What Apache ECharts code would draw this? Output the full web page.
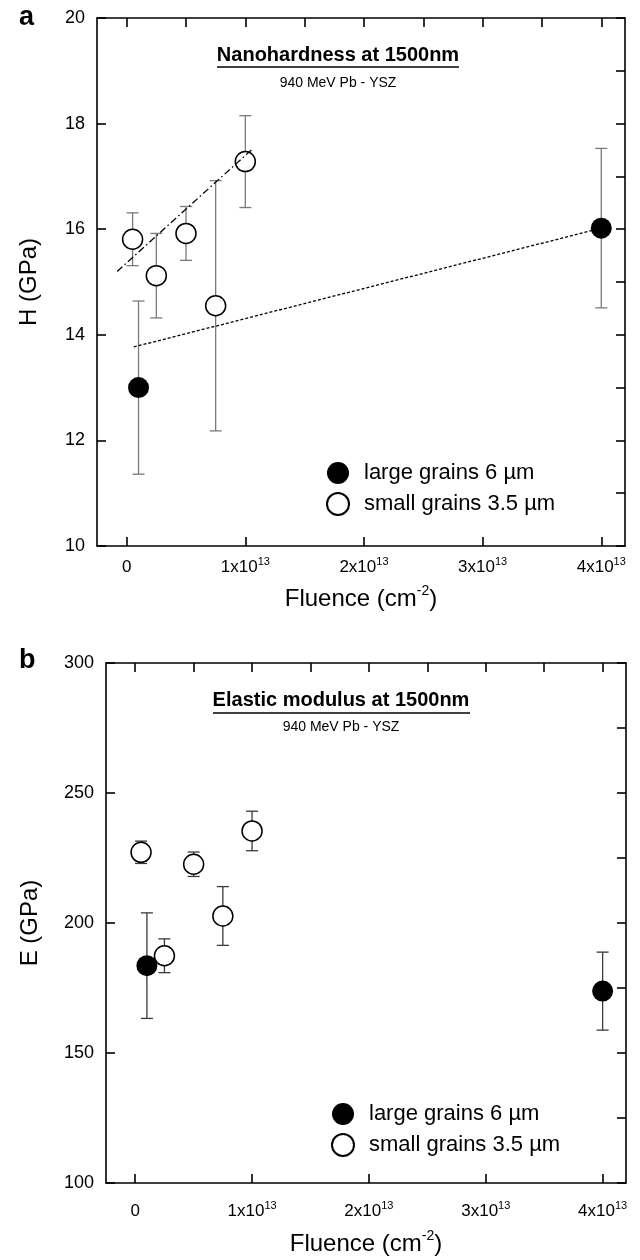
<!DOCTYPE html>
<html><head><meta charset="utf-8">
<script src="https://cdn.jsdelivr.net/npm/echarts@6/dist/echarts.min.js"></script>
<style>html,body{margin:0;padding:0;background:#fff}#c{width:640px;height:1260px}</style>
</head><body><div id="c"></div>
<script>
// ---------- data ----------
const xTicks = [0, 1e13, 2e13, 3e13, 4e13];
const xMinorTicks = [0, 0.5e13, 1e13, 1.5e13, 2e13, 2.5e13, 3e13, 3.5e13, 4e13];
// [fluence (cm^-2), value (GPa), error (GPa)]
const largeH = [[1e12, 13.0, 1.64], [4e13, 16.02, 1.51]];
const smallH = [[5e11, 15.81, 0.50], [2.5e12, 15.12, 0.80], [5e12, 15.92, 0.51], [7.5e12, 14.55, 2.37], [1e13, 17.28, 0.87]];
const fitSmallH = [[-8e11, 15.2], [1.06e13, 17.52]];
const fitLargeH = [[6e11, 13.77], [4e13, 16.02]];
const largeE = [[1e12, 183.6, 20.3], [4e13, 173.8, 15.0]];
const smallE = [[5e11, 227.2, 4.3], [2.5e12, 187.4, 6.5], [5e12, 222.6, 4.7], [7.5e12, 202.7, 11.3], [1e13, 235.4, 7.6]];
const nameLarge = 'large grains 6 µm';
const nameSmall = 'small grains 3.5 µm';

// ---------- helpers ----------
const FONT = '"Liberation Sans", Arial, sans-serif';
const toErr = arr => arr.map(d => [d[0], d[1] - d[2], d[1] + d[2]]);
const toPts = arr => arr.map(d => [d[0], d[1]]);
function errRender(color) {
  return function (params, api) {
    const x = api.value(0), lo = api.value(1), hi = api.value(2);
    const a = api.coord([x, lo]), b = api.coord([x, hi]);
    const w = 6;
    const style = { stroke: color, lineWidth: 1.3 };
    return { type: 'group', children: [
      { type: 'line', shape: { x1: a[0], y1: a[1], x2: b[0], y2: b[1] }, style },
      { type: 'line', shape: { x1: a[0] - w, y1: a[1], x2: a[0] + w, y2: a[1] }, style },
      { type: 'line', shape: { x1: b[0] - w, y1: b[1], x2: b[0] + w, y2: b[1] }, style }
    ]};
  };
}
const axisLineStyle = { color: '#000', width: 1.6 };
const xLabelFmt = v => v === 0 ? '{m|0}' : '{m|' + Math.round(v / 1e13) + 'x10}{s|13}';
const xRich = { m: { fontSize: 17, lineHeight: 22, color: '#000', fontFamily: FONT }, s: { fontSize: 11, verticalAlign: 'top', color: '#000', fontFamily: FONT } };
const nameRich = { s: { fontSize: 14, verticalAlign: 'top', color: '#000', fontFamily: FONT } };

function xAxes(grid, nameGap, labelMargin) {
  return [
    { gridIndex: grid, type: 'value', min: -2.5e12, max: 4.2e13, position: 'bottom',
      axisLine: { show: true, onZero: false, lineStyle: axisLineStyle },
      axisTick: { show: true, inside: true, length: 9, customValues: xTicks, lineStyle: axisLineStyle },
      axisLabel: { customValues: xTicks, formatter: xLabelFmt, rich: xRich, margin: labelMargin, color: '#000' },
      splitLine: { show: false },
      name: 'Fluence (cm{s|-2})', nameLocation: 'middle', nameGap: nameGap,
      nameTextStyle: { fontSize: 24, lineHeight: 30, color: '#000', fontFamily: FONT, rich: nameRich } },
    { gridIndex: grid, type: 'value', min: -2.5e12, max: 4.2e13, position: 'top',
      axisLine: { show: true, onZero: false, lineStyle: axisLineStyle },
      axisTick: { show: true, inside: true, length: 9, customValues: xMinorTicks, lineStyle: axisLineStyle },
      axisLabel: { show: false }, splitLine: { show: false } }
  ];
}
function yAxes(grid, min, max, major, minor, name, nameGap) {
  return [
    { gridIndex: grid, type: 'value', min, max, interval: major, position: 'left',
      axisLine: { show: true, onZero: false, lineStyle: axisLineStyle },
      axisTick: { show: true, inside: true, length: 9, lineStyle: axisLineStyle },
      axisLabel: { fontSize: 18, color: '#000', margin: 12, fontFamily: FONT },
      splitLine: { show: false },
      name, nameLocation: 'middle', nameGap,
      nameTextStyle: { fontSize: 24, color: '#000', fontFamily: FONT } },
    { gridIndex: grid, type: 'value', min, max, interval: minor, position: 'right',
      axisLine: { show: true, onZero: false, lineStyle: axisLineStyle },
      axisTick: { show: true, inside: true, length: 9, lineStyle: axisLineStyle },
      axisLabel: { show: false }, splitLine: { show: false } }
  ];
}
function seriesSet(grid, large, small, errColor) {
  const xi = grid * 2, yi = grid * 2;
  return [
    { type: 'custom', xAxisIndex: xi, yAxisIndex: yi, renderItem: errRender(errColor), data: toErr(large), encode: { x: 0, y: [1, 2] }, z: 1, silent: true },
    { type: 'custom', xAxisIndex: xi, yAxisIndex: yi, renderItem: errRender(errColor), data: toErr(small), encode: { x: 0, y: [1, 2] }, z: 1, silent: true },
    { type: 'scatter', name: nameLarge, xAxisIndex: xi, yAxisIndex: yi, data: toPts(large), symbol: 'circle', symbolSize: 21,
      itemStyle: { color: '#000', opacity: 1 }, z: 3, silent: true },
    { type: 'scatter', name: nameSmall, xAxisIndex: xi, yAxisIndex: yi, data: toPts(small), symbol: 'circle', symbolSize: 20,
      itemStyle: { color: '#fff', borderColor: '#000', borderWidth: 1.5, opacity: 1 }, z: 3, silent: true }
  ];
}
function legend(left, top) {
  return { left, top, orient: 'vertical', padding: 0, itemGap: 8, itemWidth: 22, itemHeight: 22,
    selectedMode: false,
    data: [{ name: nameLarge, icon: 'circle' }, { name: nameSmall, icon: 'circle' }],
    textStyle: { fontSize: 22, color: '#000', fontFamily: FONT, padding: [0, 0, 0, 10] } };
}

const chart = echarts.init(document.getElementById('c'), null, { renderer: 'canvas' });
const option = {
  animation: false,
  backgroundColor: '#fff',
  textStyle: { fontFamily: FONT },
  grid: [
    { left: 97, top: 18, width: 528, height: 528 },
    { left: 106, top: 663, width: 520, height: 520 }
  ],
  xAxis: [...xAxes(0, 38, 10), ...xAxes(1, 46, 17)],
  yAxis: [...yAxes(0, 10, 20, 2, 1, 'H (GPa)', 56), ...yAxes(1, 100, 300, 50, 25, 'E (GPa)', 64)],
  legend: [legend(326, 462), legend(331, 1103)],
  series: [
    ...seriesSet(0, largeH, smallH, '#7a7a7a'),
    { type: 'line', xAxisIndex: 0, yAxisIndex: 0, data: fitSmallH, symbol: 'none', silent: true, z: 4,
      lineStyle: { color: '#000', width: 1.3, type: [7, 3, 1.5, 3] } },
    { type: 'line', xAxisIndex: 0, yAxisIndex: 0, data: fitLargeH, symbol: 'none', silent: true, z: 2,
      lineStyle: { color: '#000', width: 1.3, type: [3, 2] } },
    ...seriesSet(1, largeE, smallE, '#3a3a3a')
  ],
  graphic: [
    { type: 'text', x: 19, y: 18, style: { text: 'a', font: 'bold 27px ' + FONT, fill: '#000', verticalAlign: 'middle' } },
    { type: 'text', x: 338, y: 55, style: { text: 'Nanohardness at 1500nm', font: 'bold 20px ' + FONT, fill: '#000', align: 'center', verticalAlign: 'middle' } },
    { type: 'line', shape: { x1: 217, y1: 67, x2: 459, y2: 67 }, style: { stroke: '#000', lineWidth: 1.6 } },
    { type: 'text', x: 338, y: 83, style: { text: '940 MeV Pb - YSZ', font: '14px ' + FONT, fill: '#000', align: 'center', verticalAlign: 'middle' } },
    { type: 'text', x: 19, y: 661, style: { text: 'b', font: 'bold 27px ' + FONT, fill: '#000', verticalAlign: 'middle' } },
    { type: 'text', x: 341, y: 700, style: { text: 'Elastic modulus at 1500nm', font: 'bold 20px ' + FONT, fill: '#000', align: 'center', verticalAlign: 'middle' } },
    { type: 'line', shape: { x1: 213, y1: 713, x2: 470, y2: 713 }, style: { stroke: '#000', lineWidth: 1.6 } },
    { type: 'text', x: 341, y: 727, style: { text: '940 MeV Pb - YSZ', font: '14px ' + FONT, fill: '#000', align: 'center', verticalAlign: 'middle' } }
  ]
};
chart.setOption(option);
</script>
</body></html>
